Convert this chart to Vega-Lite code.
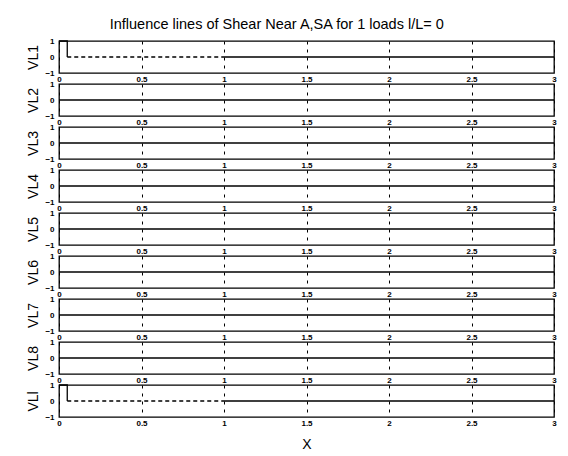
{
  "$schema": "https://vega.github.io/schema/vega-lite/v6.json",
  "padding": {"left": 26, "top": 16, "right": 5, "bottom": 5},
  "title": {"text": "Influence lines of Shear Near A,SA for 1 loads l/L= 0", "fontSize": 14.5, "fontWeight": "normal", "font": "Liberation Sans", "color": "black", "offset": 4, "anchor": "middle", "dx": -15},
  "spacing": 11,
  "bounds": "flush",
  "data": {"values": [
    {"p": "VL1", "g": "a", "s": "solid", "i": 1, "x": 0, "y": 1},
    {"p": "VL1", "g": "a", "s": "solid", "i": 2, "x": 0.05, "y": 1},
    {"p": "VL1", "g": "a", "s": "solid", "i": 3, "x": 0.05, "y": 0},
    {"p": "VL1", "g": "b", "s": "dashed", "i": 4, "x": 0.05, "y": 0},
    {"p": "VL1", "g": "b", "s": "dashed", "i": 5, "x": 1, "y": 0},
    {"p": "VL1", "g": "c", "s": "solid", "i": 6, "x": 1, "y": 0},
    {"p": "VL1", "g": "c", "s": "solid", "i": 7, "x": 3, "y": 0},
    {"p": "VL2", "g": "a", "s": "solid", "i": 1, "x": 0, "y": 0},
    {"p": "VL2", "g": "a", "s": "solid", "i": 2, "x": 3, "y": 0},
    {"p": "VL3", "g": "a", "s": "solid", "i": 1, "x": 0, "y": 0},
    {"p": "VL3", "g": "a", "s": "solid", "i": 2, "x": 3, "y": 0},
    {"p": "VL4", "g": "a", "s": "solid", "i": 1, "x": 0, "y": 0},
    {"p": "VL4", "g": "a", "s": "solid", "i": 2, "x": 3, "y": 0},
    {"p": "VL5", "g": "a", "s": "solid", "i": 1, "x": 0, "y": 0},
    {"p": "VL5", "g": "a", "s": "solid", "i": 2, "x": 3, "y": 0},
    {"p": "VL6", "g": "a", "s": "solid", "i": 1, "x": 0, "y": 0},
    {"p": "VL6", "g": "a", "s": "solid", "i": 2, "x": 3, "y": 0},
    {"p": "VL7", "g": "a", "s": "solid", "i": 1, "x": 0, "y": 0},
    {"p": "VL7", "g": "a", "s": "solid", "i": 2, "x": 3, "y": 0},
    {"p": "VL8", "g": "a", "s": "solid", "i": 1, "x": 0, "y": 0},
    {"p": "VL8", "g": "a", "s": "solid", "i": 2, "x": 3, "y": 0},
    {"p": "VLl", "g": "a", "s": "solid", "i": 1, "x": 0, "y": 1},
    {"p": "VLl", "g": "a", "s": "solid", "i": 2, "x": 0.05, "y": 1},
    {"p": "VLl", "g": "a", "s": "solid", "i": 3, "x": 0.05, "y": 0},
    {"p": "VLl", "g": "b", "s": "dashed", "i": 4, "x": 0.05, "y": 0},
    {"p": "VLl", "g": "b", "s": "dashed", "i": 5, "x": 1, "y": 0},
    {"p": "VLl", "g": "c", "s": "solid", "i": 6, "x": 1, "y": 0},
    {"p": "VLl", "g": "c", "s": "solid", "i": 7, "x": 3, "y": 0}
  ]},
  "vconcat": [
    {"transform": [{"filter": "datum.p == 'VL1'"}], "width": 495, "height": 32, "mark": {"type": "line", "color": "black", "strokeWidth": 1.3},
     "encoding": {"x": {"field": "x", "type": "quantitative", "scale": {"domain": [0, 3], "nice": false}, "axis": {"title": null, "values": [0, 0.5, 1, 1.5, 2, 2.5, 3]}},
      "y": {"field": "y", "type": "quantitative", "scale": {"domain": [-1, 1], "nice": false}, "axis": {"title": "VL1", "values": [-1, 0, 1]}},
      "strokeDash": {"field": "s", "type": "nominal", "scale": {"domain": ["solid", "dashed"], "range": [[1, 0], [4, 3]]}, "legend": null},
      "detail": {"field": "g"}, "order": {"field": "i", "type": "quantitative"}}},
    {"transform": [{"filter": "datum.p == 'VL2'"}], "width": 495, "height": 32, "mark": {"type": "line", "color": "black", "strokeWidth": 1.3},
     "encoding": {"x": {"field": "x", "type": "quantitative", "scale": {"domain": [0, 3], "nice": false}, "axis": {"title": null, "values": [0, 0.5, 1, 1.5, 2, 2.5, 3]}},
      "y": {"field": "y", "type": "quantitative", "scale": {"domain": [-1, 1], "nice": false}, "axis": {"title": "VL2", "values": [-1, 0, 1]}},
      "detail": {"field": "g"}, "order": {"field": "i", "type": "quantitative"}}},
    {"transform": [{"filter": "datum.p == 'VL3'"}], "width": 495, "height": 32, "mark": {"type": "line", "color": "black", "strokeWidth": 1.3},
     "encoding": {"x": {"field": "x", "type": "quantitative", "scale": {"domain": [0, 3], "nice": false}, "axis": {"title": null, "values": [0, 0.5, 1, 1.5, 2, 2.5, 3]}},
      "y": {"field": "y", "type": "quantitative", "scale": {"domain": [-1, 1], "nice": false}, "axis": {"title": "VL3", "values": [-1, 0, 1]}},
      "detail": {"field": "g"}, "order": {"field": "i", "type": "quantitative"}}},
    {"transform": [{"filter": "datum.p == 'VL4'"}], "width": 495, "height": 32, "mark": {"type": "line", "color": "black", "strokeWidth": 1.3},
     "encoding": {"x": {"field": "x", "type": "quantitative", "scale": {"domain": [0, 3], "nice": false}, "axis": {"title": null, "values": [0, 0.5, 1, 1.5, 2, 2.5, 3]}},
      "y": {"field": "y", "type": "quantitative", "scale": {"domain": [-1, 1], "nice": false}, "axis": {"title": "VL4", "values": [-1, 0, 1]}},
      "detail": {"field": "g"}, "order": {"field": "i", "type": "quantitative"}}},
    {"transform": [{"filter": "datum.p == 'VL5'"}], "width": 495, "height": 32, "mark": {"type": "line", "color": "black", "strokeWidth": 1.3},
     "encoding": {"x": {"field": "x", "type": "quantitative", "scale": {"domain": [0, 3], "nice": false}, "axis": {"title": null, "values": [0, 0.5, 1, 1.5, 2, 2.5, 3]}},
      "y": {"field": "y", "type": "quantitative", "scale": {"domain": [-1, 1], "nice": false}, "axis": {"title": "VL5", "values": [-1, 0, 1]}},
      "detail": {"field": "g"}, "order": {"field": "i", "type": "quantitative"}}},
    {"transform": [{"filter": "datum.p == 'VL6'"}], "width": 495, "height": 32, "mark": {"type": "line", "color": "black", "strokeWidth": 1.3},
     "encoding": {"x": {"field": "x", "type": "quantitative", "scale": {"domain": [0, 3], "nice": false}, "axis": {"title": null, "values": [0, 0.5, 1, 1.5, 2, 2.5, 3]}},
      "y": {"field": "y", "type": "quantitative", "scale": {"domain": [-1, 1], "nice": false}, "axis": {"title": "VL6", "values": [-1, 0, 1]}},
      "detail": {"field": "g"}, "order": {"field": "i", "type": "quantitative"}}},
    {"transform": [{"filter": "datum.p == 'VL7'"}], "width": 495, "height": 32, "mark": {"type": "line", "color": "black", "strokeWidth": 1.3},
     "encoding": {"x": {"field": "x", "type": "quantitative", "scale": {"domain": [0, 3], "nice": false}, "axis": {"title": null, "values": [0, 0.5, 1, 1.5, 2, 2.5, 3]}},
      "y": {"field": "y", "type": "quantitative", "scale": {"domain": [-1, 1], "nice": false}, "axis": {"title": "VL7", "values": [-1, 0, 1]}},
      "detail": {"field": "g"}, "order": {"field": "i", "type": "quantitative"}}},
    {"transform": [{"filter": "datum.p == 'VL8'"}], "width": 495, "height": 32, "mark": {"type": "line", "color": "black", "strokeWidth": 1.3},
     "encoding": {"x": {"field": "x", "type": "quantitative", "scale": {"domain": [0, 3], "nice": false}, "axis": {"title": null, "values": [0, 0.5, 1, 1.5, 2, 2.5, 3]}},
      "y": {"field": "y", "type": "quantitative", "scale": {"domain": [-1, 1], "nice": false}, "axis": {"title": "VL8", "values": [-1, 0, 1]}},
      "detail": {"field": "g"}, "order": {"field": "i", "type": "quantitative"}}},
    {"transform": [{"filter": "datum.p == 'VLl'"}], "width": 495, "height": 32, "mark": {"type": "line", "color": "black", "strokeWidth": 1.3},
     "encoding": {"x": {"field": "x", "type": "quantitative", "scale": {"domain": [0, 3], "nice": false}, "axis": {"title": "X", "titlePadding": 10, "values": [0, 0.5, 1, 1.5, 2, 2.5, 3]}},
      "y": {"field": "y", "type": "quantitative", "scale": {"domain": [-1, 1], "nice": false}, "axis": {"title": "VLl", "values": [-1, 0, 1]}},
      "strokeDash": {"field": "s", "type": "nominal", "scale": {"domain": ["solid", "dashed"], "range": [[1, 0], [4, 3]]}, "legend": null},
      "detail": {"field": "g"}, "order": {"field": "i", "type": "quantitative"}}}
  ],
  "config": {
    "view": {"stroke": "black", "strokeWidth": 1.3},
    "font": "Liberation Sans",
    "axis": {"domain": false, "ticks": false, "labelColor": "black", "labelFont": "Liberation Sans", "labelFontSize": 8, "labelFontWeight": "bold", "titleColor": "black", "titleFont": "Liberation Sans", "titleFontWeight": "normal", "titleFontSize": 14, "format": "~g"},
    "axisX": {"grid": true, "gridColor": "black", "gridDash": [3, 5], "gridWidth": 1, "gridOpacity": 1, "labelPadding": 2, "labelFlush": false},
    "axisY": {"grid": false, "labelPadding": 5, "titlePadding": 4, "labelFlush": false}
  }
}
